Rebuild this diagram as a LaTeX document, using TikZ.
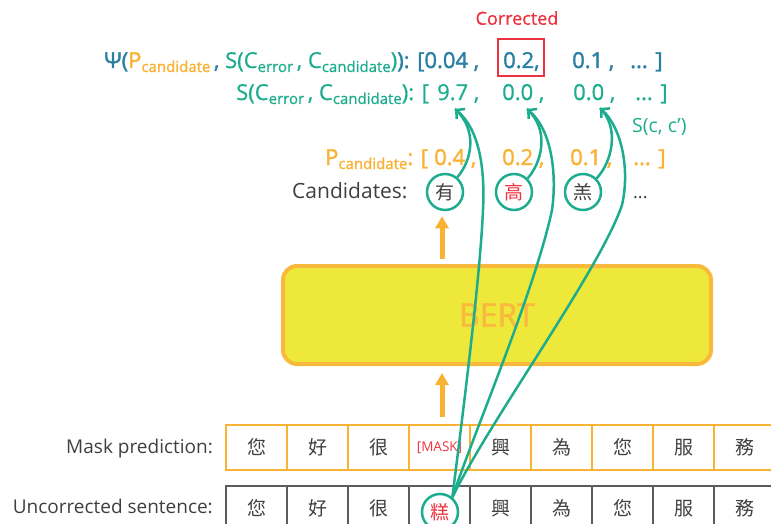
\documentclass[tikz,border=0pt]{standalone}
\usepackage{fontspec}
\setmainfont{Open Sans}
\newfontfamily\medw{Open Sans}[FakeBold=0.8]
\newfontfamily\semw{Open Sans}[FakeBold=1.6]
\newfontfamily\cjk{Noto Sans CJK TC}
\usetikzlibrary{arrows.meta}

\definecolor{psiblue}{HTML}{2A7FA3}
\definecolor{simgreen}{HTML}{1DAD8E}
\definecolor{probor}{HTML}{F9B233}
\definecolor{errred}{HTML}{EE3340}
\definecolor{labgray}{HTML}{3F3F3F}
\definecolor{bertfill}{HTML}{EEE83A}
\definecolor{bertedge}{HTML}{F9B93C}

% subscript set lower and smaller than the running text
\newcommand\lowsub[1]{\raisebox{-4pt}{\fontsize{15}{15}\selectfont #1}}

\begin{document}
\begin{tikzpicture}[x=1pt,y=-1pt,
  txt/.style={inner sep=0pt, anchor=base west, font=\medw\fontsize{22}{22}\selectfont},
  heavy/.style={txt, font=\semw\fontsize{22}{22}\selectfont},
  lab/.style={inner sep=0pt, anchor=base east, text=labgray, font=\fontsize{19}{19}\selectfont},
  cand/.style={circle, draw=simgreen, line width=2.5pt, minimum size=36pt, inner sep=0pt,
    font=\cjk\fontsize{19}{19}\selectfont, text=labgray},
  cell/.style={minimum width=61pt, minimum height=45pt, inner sep=0pt,
    font=\cjk\fontsize{19}{19}\selectfont, text=labgray},
  maskcell/.style={cell, draw=probor, line width=1.5pt},
  plaincell/.style={cell, draw=labgray!85, line width=1.2pt},
  flow/.style={draw=probor, line width=5pt, -{Triangle[length=12pt,width=13pt]}},
  simlink/.style={draw=simgreen, line width=2.5pt},
  simarrow/.style={simlink, -{Straight Barb[length=6pt,width=13pt]}}]

\useasboundingbox (0,0) rectangle (771,524);

% ---- combined score line ----
\node[heavy] (psi) at (104,68) {\color{psiblue}Ψ(\color{probor}P\lowsub{candidate}\color{psiblue}\,, \color{simgreen}{\medw S(C\lowsub{error}\,, C\lowsub{candidate})}\color{psiblue}): [0.04 ,};
\node[heavy, text=psiblue] (v12) at (503,68) {0.2,};
\node[heavy, text=psiblue] (v13) at (572,68) {0.1 ,};
\node[heavy, text=psiblue] (v14) at (630,68) {... ]};
\node[draw=errred, line width=2pt, minimum width=46pt, minimum height=37pt, inner sep=0pt] (corrbox) at (521,57.5) {};
\node[inner sep=0pt, text=errred, font=\medw\fontsize{18}{18}\selectfont] (corrlabel) at (517,18) {Corrected};

% ---- similarity line ----
\node[txt, text=simgreen] (sim) at (236,100) {S(C\lowsub{error}\,, C\lowsub{candidate}): [};
\node[txt, text=simgreen] (v21) at (437,100) {9.7 ,};
\node[txt, text=simgreen] (v22) at (502,100) {0.0 ,};
\node[txt, text=simgreen] (v23) at (573,100) {0.0 ,};
\node[txt, text=simgreen] (v24) at (635,100) {... ]};
\node[txt, text=simgreen, font=\fontsize{19.5}{19.5}\selectfont] (scc) at (632,133) {S(c, c’)};

% ---- probability line ----
\node[heavy, text=probor] (pc) at (325,165) {P\lowsub{candidate}: [};
\node[heavy, text=probor] (v31) at (434,165) {0.4 ,};
\node[heavy, text=probor] (v32) at (502,165) {0.2 ,};
\node[heavy, text=probor] (v33) at (570,165) {0.1 ,};
\node[heavy, text=probor] (v34) at (633,165) {... ]};

% ---- candidates ----
\node[txt, text=labgray, font=\fontsize{21}{21}\selectfont] (candlab) at (292,198) {Candidates:};
\node[cand] (c1) at (445,192) {有};
\node[cand, text=errred] (c2) at (514,192) {高};
\node[cand] (c3) at (583,192) {羔};
\node[txt, text=labgray, font=\fontsize{18}{18}\selectfont] (cmore) at (633,198) {...};

% ---- BERT ----
\node[draw=bertedge, fill=bertfill, line width=4pt, rounded corners=14pt,
  minimum width=428pt, minimum height=98pt, inner sep=0pt,
  text=bertedge, font=\semw\fontsize{32}{32}\selectfont] (bert) at (497,315) {BERT};

% ---- token rows ----
\node[lab] (masklab) at (213,453) {Mask prediction:};
\node[lab] (srclab) at (213,513) {Uncorrected sentence:};
\foreach \i/\ch in {1/您,2/好,3/很,5/興,6/為,7/您,8/服,9/務}{
  \node[maskcell] (m\i) at (195.5+61*\i,447.5) {\ch};
  \node[plaincell] (u\i) at (195.5+61*\i,508.5) {\ch};
}
\node[maskcell, text=errred, font=\fontsize{13.5}{13.5}\selectfont] (m4) at (439.5,447.5) {[MASK]};
\node[plaincell] (u4) at (439.5,508.5) {};
\node[cand, text=errred] (g) at (440,512) {糕};

% ---- data flow through BERT ----
\draw[flow] ([yshift=7pt]m4.north -| 442,0) -- ([yshift=-7pt]bert.south -| 442,0);
\draw[flow] ([yshift=5pt]bert.north -| 442,0) -- ([yshift=-5pt]c1.south -| 442,0);

% ---- similarity links ----
\coordinate (t1) at (455,109);
\coordinate (t2) at (527,109);
\coordinate (t3) at (600,108);
\coordinate (k1) at (483,210);
\coordinate (k2) at (552,210);
\coordinate (k3) at (622,205);

\draw[simarrow] (g.50) .. controls (462,420) and (480,280) .. (k1)
  .. controls (485,170) and (480,130) .. (t1);
\draw[simarrow] (g.50) .. controls (475,430) and (535,290) .. (k2)
  .. controls (557,175) and (552,130) .. (t2);
\draw[simarrow] (g.50) .. controls (490,420) and (600,270) .. (k3)
  .. controls (630,170) and (622,128) .. (t3);

\draw[simlink] (c1.50) .. controls (472,160) and (478,130) .. (t1);
\draw[simlink] (c2.45) .. controls (542,162) and (550,130) .. (t2);
\draw[simlink] (c3.45) .. controls (612,162) and (620,128) .. (t3);

\end{tikzpicture}
\end{document}
